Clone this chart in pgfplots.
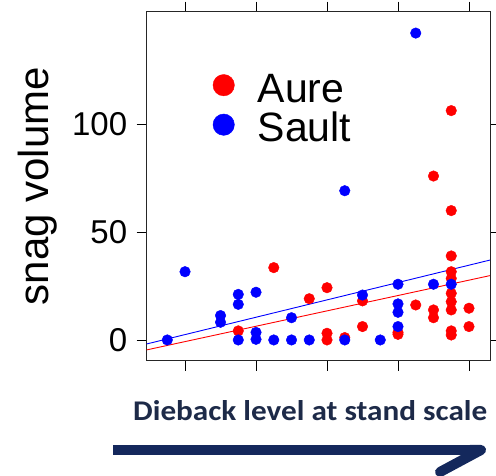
\documentclass[border=0pt]{standalone}
\usepackage{fontspec}
\setmainfont{Liberation Sans}
\newfontfamily\carlito{Carlito}
\usepackage{pgfplots}
\pgfplotsset{compat=1.18}
\definecolor{navytext}{HTML}{1D2A48}
\definecolor{navyarrow}{HTML}{14285C}
\pgfplotstableread{
x y
0.75 4.2
1.25 33.5
1.75 19.1
2 24.2
2 3.1
2 0
2.25 1.1
2.5 18.1
2.5 6.2
3 3.5
3 2.6
3.25 16.2
3.5 13.9
3.5 10.3
3.5 75.9
3.75 106.2
3.75 59.9
3.75 38.9
3.75 31.6
3.75 28.5
3.75 21.6
3.75 17.7
3.75 13.9
3.75 4.2
3.75 2.3
4 14.7
4 6.2
}\aure
\pgfplotstableread{
x y
-0.25 0
0 31.6
0.5 11.3
0.5 8.2
0.75 21.1
0.75 16.5
0.75 0
1 22.1
1 3.5
1 0.3
1.25 0
1.5 10.3
1.5 0
1.75 0
2.25 69.1
2.25 0
2.5 20.8
2.75 0
3 25.8
3 16.7
3 12.8
3 6.2
3.25 142.1
3.5 25.8
3.75 25.8
}\sault
\begin{document}
\begin{tikzpicture}[x=1pt,y=1pt]
\useasboundingbox (0,0) rectangle (496,476);
\begin{axis}[
  at={(146.7pt,115.3pt)}, anchor=south west,
  scale only axis, width=343.3pt, height=349pt,
  xmin=-0.54, xmax=4.296, ymin=-9.6, ymax=152,
  xtick={0,1,2,3,4}, xticklabels={}, ytick={0,50,100},
  tick align=outside, major tick length=10pt,
  tick style={black, line width=0.9pt},
  axis line style={line width=0.9pt, black!85},
  ticklabel style={font=\fontsize{33}{38}\selectfont},
  yticklabel style={xshift=-6pt},
  /pgf/number format/assume math mode=true,
  ylabel={snag volume},
  ylabel style={font=\fontsize{42}{48}\selectfont, at={(axis description cs:-0.318,0.5)}, anchor=center},
  legend style={draw=none, fill=none, at={(rel axis cs:0.18,0.833)}, anchor=north west,
    font=\fontsize{41}{46}\selectfont, row sep=0pt,
    nodes={inner sep=0pt, text height=30pt, text depth=9pt}},
  legend cell align=left,
  legend image code/.code={\path[draw=none,fill=none] (0pt,-20pt) rectangle (46pt,19pt); \draw[#1, mark size=10.7pt] plot coordinates {(12pt,6.5pt)};},
]
\addplot[only marks, mark=*, mark size=5.3pt, color=red] table {\aure};
\addlegendentry{Aure}
\addplot[only marks, mark=*, mark size=5.3pt, color=blue] table {\sault};
\addlegendentry{Sault}
\addplot[red, line width=0.9pt, forget plot] coordinates {(-0.54,-4.6) (4.296,29.8)};
\addplot[blue, line width=0.9pt, forget plot] coordinates {(-0.54,-1.85) (4.296,37.0)};
\end{axis}
\node[anchor=base west, inner sep=0pt, text=navytext] at (133,55) {\resizebox{354pt}{20pt}{\carlito\bfseries Dieback level at stand scale}};
\draw[navyarrow, line width=10pt, line cap=butt] (113,26) -- (478,26);
\draw[navyarrow, line width=10pt, line cap=round, line join=round] (470,26) -- (481,26) -- (440,4);
\end{tikzpicture}
\end{document}
